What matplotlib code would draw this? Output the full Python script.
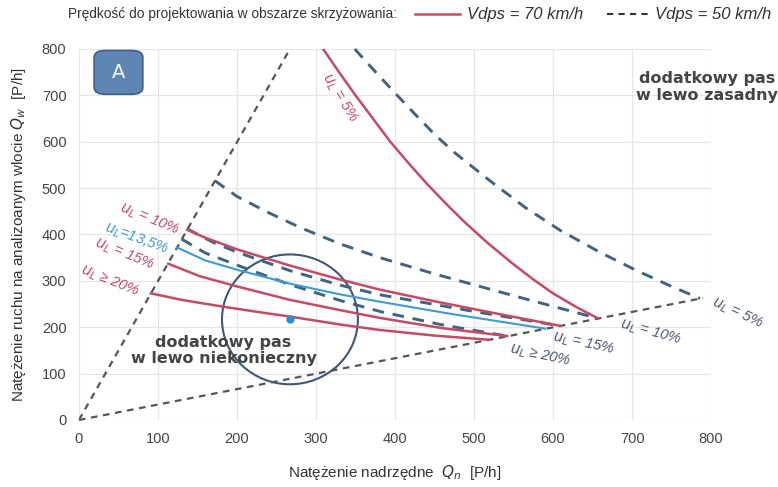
import numpy as np
import matplotlib.pyplot as plt
from matplotlib.patches import FancyBboxPatch, Ellipse
from matplotlib.lines import Line2D

plt.rcParams['font.family'] = ['Liberation Sans Narrow', 'Liberation Sans', 'DejaVu Sans']

# boundary lines of the admissible area
upper_bound_x = [0, 267]
upper_bound_y = [0, 800]
lower_bound_x = [0, 790]
lower_bound_y = [0, 263]

# Vdps = 70 km/h (solid)
red_5_x = [309, 330, 350, 372, 394, 417, 440, 463, 486, 517, 549, 575, 600, 630, 657]
red_5_y = [800, 748, 700, 650, 600, 554, 510, 469, 430, 382, 337, 303, 273, 243, 219]
red_10_x = [137, 160, 200, 267, 330, 381, 450, 530, 609]
red_10_y = [410, 393, 368, 333, 303, 281, 256, 229, 203]
red_15_x = [113, 153, 200, 267, 330, 381, 460, 542]
red_15_y = [337, 310, 288, 259, 237, 220, 198, 181]
red_20_x = [91, 130, 180, 230, 267, 330, 381, 450, 519]
red_20_y = [273, 259, 245, 232, 223, 206, 194, 182, 173]
blue_135_x = [124, 160, 200, 267, 330, 381, 470, 590]
blue_135_y = [372, 344, 324, 294, 271, 255, 229, 197]

# Vdps = 50 km/h (dashed)
dash_5_x = [349, 375, 400, 425, 450, 475, 520, 565, 609, 660, 706, 750, 786]
dash_5_y = [800, 751, 705, 660, 616, 577, 516, 458, 409, 361, 322, 288, 262]
dash_10_x = [172, 200, 240, 280, 330, 381, 450, 550, 657]
dash_10_y = [516, 482, 447, 415, 380, 350, 315, 268, 219]
dash_15_x = [137, 170, 200, 267, 330, 381, 500, 609]
dash_15_y = [412, 383, 362, 322, 291, 270, 234, 203]
dash_20_x = [130, 160, 200, 267, 330, 381, 460, 542]
dash_20_y = [390, 360, 334, 292, 258, 234, 205, 181]

# example point
point_x, point_y = 267, 217

ticks = [0, 100, 200, 300, 400, 500, 600, 700, 800]

red = '#c64a63'
blue = '#3d9ad6'
slate = '#3f6382'
grey = '#555555'

fig = plt.figure(figsize=(7.78, 4.87), dpi=100)
ax = fig.add_axes([0.1015, 0.1376, 0.8125, 0.7618])

ax.plot(upper_bound_x, upper_bound_y, color=grey, lw=1.6, ls=(0, (3, 2.5)))
ax.plot(lower_bound_x, lower_bound_y, color=grey, lw=1.6, ls=(0, (3, 2.5)), clip_on=False)

for xs, ys in [(dash_5_x, dash_5_y), (dash_10_x, dash_10_y),
               (dash_15_x, dash_15_y), (dash_20_x, dash_20_y)]:
    ax.plot(xs, ys, color=slate, lw=2.1, ls=(0, (4, 3)), clip_on=False)

for xs, ys in [(red_5_x, red_5_y), (red_10_x, red_10_y),
               (red_15_x, red_15_y), (red_20_x, red_20_y)]:
    ax.plot(xs, ys, color=red, lw=1.8)
ax.plot(blue_135_x, blue_135_y, color=blue, lw=1.5)

ax.add_patch(Ellipse((point_x, point_y), 172, 280, fill=False, ec='#3b5878', lw=1.5))
ax.plot(point_x, point_y, 'o', color='#2a8fd4', ms=5)

ax.set_xlim(0, 800)
ax.set_ylim(0, 800)
ax.set_xticks(ticks)
ax.set_yticks(ticks)
ax.tick_params(length=0, labelsize=10.5, labelcolor='#444444', pad=9)
ax.grid(True, color='#e6e6e6', lw=0.9)
ax.set_axisbelow(True)
for s in ax.spines.values():
    s.set_visible(False)

ax.set_xlabel('Natężenie nadrzędne  $Q_n$  [P/h]', fontsize=11, color='#333333', labelpad=12)
ax.set_ylabel('Natężenie ruchu na analizoanym wlocie $Q_w$  [P/h]', fontsize=11,
              color='#333333', labelpad=10)

# label box "A"
ax.add_patch(FancyBboxPatch((0.024, 0.878), 0.077, 0.118,
                            boxstyle='round,pad=0,rounding_size=0.018',
                            transform=ax.transAxes, fc='#5d86b5', ec='#3f5f86', lw=1.2,
                            clip_on=False))
ax.text(0.0625, 0.937, 'A', transform=ax.transAxes, ha='center', va='center',
        color='white', fontsize=14, family='DejaVu Sans')

ax.text(795, 718, 'dodatkowy pas\nw lewo zasadny', ha='center', va='center',
        fontsize=11.5, fontweight='bold', color='#444444', family='DejaVu Sans',
        linespacing=1.1, clip_on=False)
ax.text(183, 150, 'dodatkowy pas\nw lewo niekonieczny', ha='center', va='center',
        fontsize=11.5, fontweight='bold', color='#444444', family='DejaVu Sans',
        linespacing=1.1)

# curve labels
lab = dict(fontsize=10.5, fontstyle='italic', ha='center', va='center', clip_on=False)
ax.text(330, 695, '$u_L$ = 5%', color=red, rotation=-58, **lab)
ax.text(89, 434, '$u_L$ = 10%', color=red, rotation=-22, **lab)
ax.text(73, 391, '$u_L$=13,5%', color=blue, rotation=-20, **lab)
ax.text(57, 357, '$u_L$ = 15%', color=red, rotation=-22, **lab)
ax.text(39, 299, '$u_L$ ≥ 20%', color=red, rotation=-22, **lab)
ax.text(833, 230, '$u_L$ = 5%', color='#4a5878', rotation=-25, **lab)
ax.text(723, 189, '$u_L$ = 10%', color='#4a5878', rotation=-15, **lab)
ax.text(638, 166, '$u_L$ = 15%', color='#4a5878', rotation=-12, **lab)
ax.text(584, 140, '$u_L$ ≥ 20%', color='#4a5878', rotation=-12, **lab)

# legend at the top
fig.text(0.087, 0.971, 'Prędkość do projektowania w obszarze skrzyżowania:', fontsize=9.9,
         color='#333333', va='center')
fig.add_artist(Line2D([0.533, 0.591], [0.971, 0.971], color=red, lw=1.8))
fig.text(0.600, 0.971, 'Vdps = 70 km/h', fontsize=12, fontstyle='italic', color='#333333',
         va='center')
fig.add_artist(Line2D([0.780, 0.835], [0.971, 0.971], color='#333333', lw=1.5,
                      ls=(0, (3, 2.5))))
fig.text(0.842, 0.971, 'Vdps = 50 km/h', fontsize=12, fontstyle='italic', color='#333333',
         va='center')

fig.savefig('out.png', dpi=100)
